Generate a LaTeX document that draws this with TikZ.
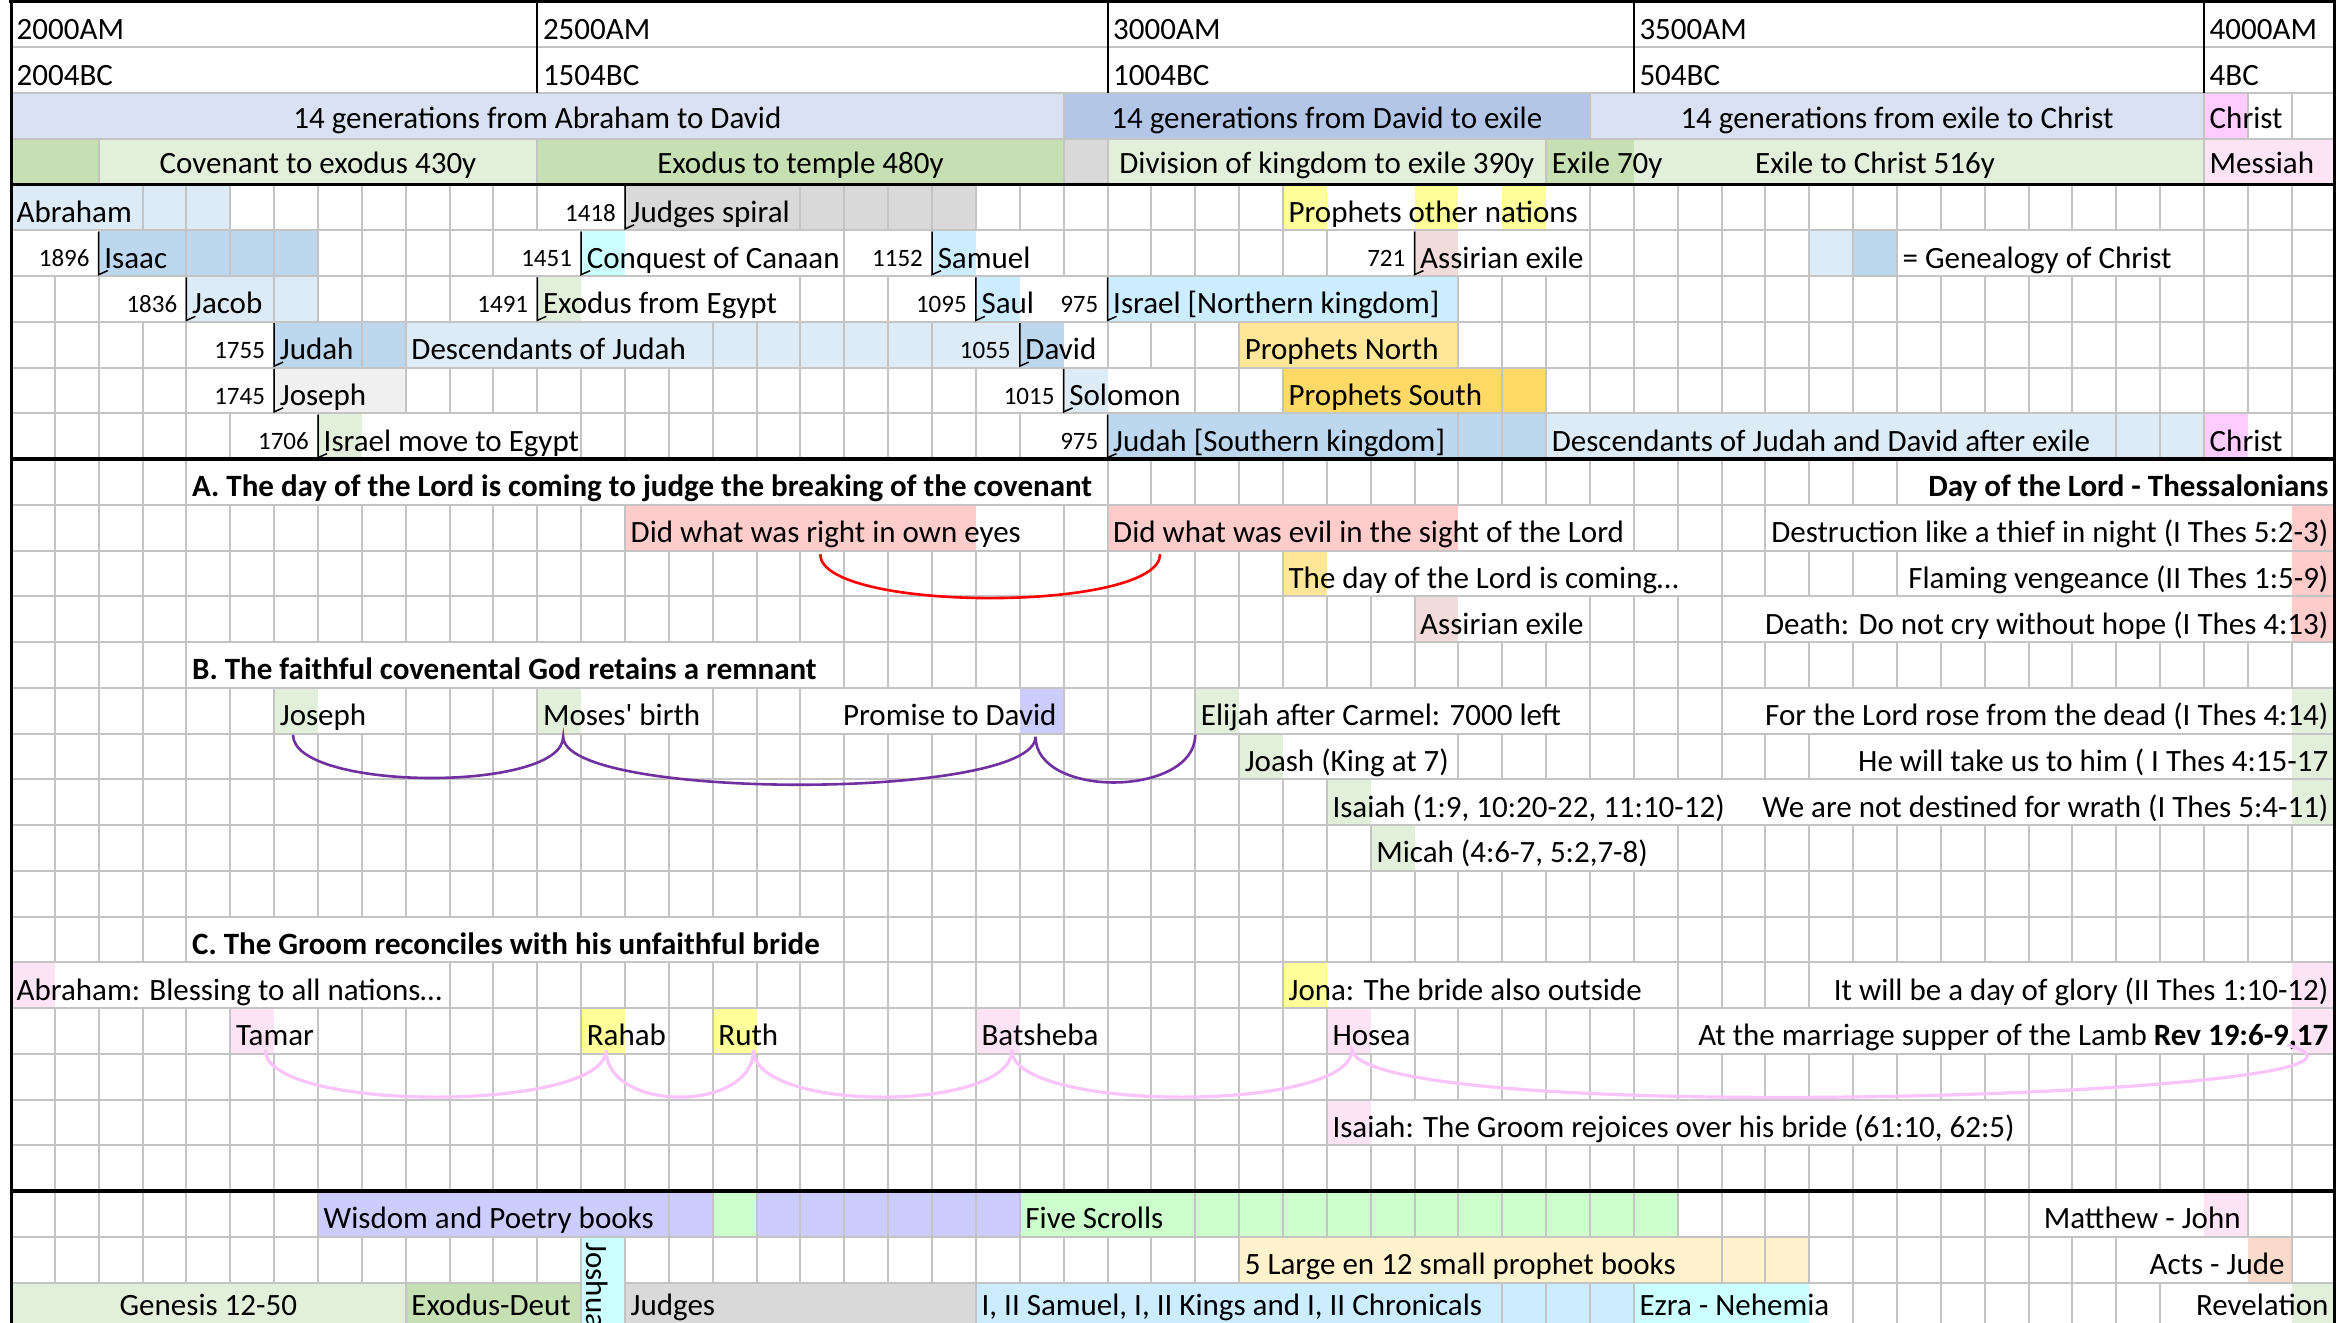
\documentclass[tikz,border=0pt]{standalone}
\usepackage{fontspec}
\setmainfont{Carlito}
\newfontfamily\nomap{Carlito}
\newcommand\fsn{\fontsize{31pt}{37pt}\selectfont}
\newcommand\fsy{\fontsize{25pt}{30pt}\selectfont}
\definecolor{lav}{HTML}{D9E1F2}
\definecolor{blueB}{HTML}{B4C6E7}
\definecolor{chpink}{HTML}{FFCCFF}
\definecolor{dgreen}{HTML}{C6E0B4}
\definecolor{lgreen}{HTML}{E2EFDA}
\definecolor{gryA}{HTML}{D9D9D9}
\definecolor{gryB}{HTML}{F0F0F0}
\definecolor{lpink}{HTML}{FCE4F4}
\definecolor{lblue}{HTML}{DDEBF7}
\definecolor{dblue}{HTML}{BDD7EE}
\definecolor{yel}{HTML}{FFFF99}
\definecolor{cyanA}{HTML}{CCFFFF}
\definecolor{sky}{HTML}{CCECFF}
\definecolor{rose}{HTML}{F2DCDB}
\definecolor{orN}{HTML}{FFE699}
\definecolor{orS}{HTML}{FFD966}
\definecolor{pinkR}{HTML}{FFCCCC}
\definecolor{peri}{HTML}{CCCCFF}
\definecolor{fiveG}{HTML}{CCFFCC}
\definecolor{lor}{HTML}{FFF2CC}
\definecolor{salm}{HTML}{FADACB}
\definecolor{gridc}{HTML}{C4C4C4}
\definecolor{purp}{HTML}{7030A0}
\definecolor{arcpink}{HTML}{F9C4F9}
\tikzset{
  tl/.style={anchor=base west, inner xsep=5.5pt, inner ysep=0pt, font=\fsn},
  tlb/.style={tl, font=\fsn\bfseries},
  tr/.style={anchor=base east, inner xsep=7pt, inner ysep=0pt, font=\fsn},
  trb/.style={tr, font=\fsn\bfseries},
  tc/.style={anchor=base, inner sep=0pt, font=\fsn},
  yr/.style={anchor=base east, inner xsep=9pt, inner ysep=0pt, font=\fsy},
  gl/.style={draw=gridc, line width=2pt},
  mk/.style={draw=black, line width=1.5pt},
  heavy/.style={draw=black, line width=3.8pt},
  hdrline/.style={draw=black, line width=2pt},
  redarc/.style={draw=red, line width=2.6pt},
  purparc/.style={draw=purp, line width=2.6pt},
  pinkarc/.style={draw=arcpink, line width=3.2pt},
}
\newcommand\vgrid[2]{\foreach \a/\b in {#2}{\foreach \c in {\a,...,\b}{\draw[gl] (\c,#1) -- (\c,#1+1);}}}
\newcommand\cellfill[4]{\fill[#4] (#1,#2) rectangle (#3,#2+1);}
\newcommand\yearmark[4]{\draw[mk] (#1,#2+0.03) -- (#1,#2+0.97) -- ++(9pt,4pt); \node[yr] (#4) at (#1,#2+0.8) {#3};}
\begin{document}
\begin{tikzpicture}[x=43.86pt,y=-45.75pt]
\useasboundingbox (-0.2508,-0.0328) rectangle (53.01,28.885);
\fill[white] (-0.2508,-0.0328) rectangle (53.01,28.885);
% ---------- fills: header
\cellfill{0}{2}{24}{lav}
\cellfill{24}{2}{36}{blueB}
\cellfill{36}{2}{50}{lav}
\cellfill{50}{2}{51}{chpink}
\cellfill{0}{3}{2}{dgreen}
\cellfill{2}{3}{12}{lgreen}
\cellfill{12}{3}{24}{dgreen}
\cellfill{24}{3}{25}{gryA}
\cellfill{25}{3}{35}{lgreen}
\cellfill{35}{3}{37}{dgreen}
\cellfill{37}{3}{50}{lgreen}
\cellfill{50}{3}{53}{lpink}
% ---------- fills: section 1
\cellfill{0}{4}{5}{lblue}
\cellfill{14}{4}{22}{gryA}
\cellfill{29}{4}{30}{yel}
\cellfill{32}{4}{33}{yel}
\cellfill{34}{4}{35}{yel}
\cellfill{2}{5}{7}{dblue}
\cellfill{13}{5}{14}{cyanA}
\cellfill{21}{5}{22}{sky}
\cellfill{32}{5}{33}{rose}
\cellfill{41}{5}{42}{lblue}
\cellfill{42}{5}{43}{dblue}
\cellfill{4}{6}{7}{lblue}
\cellfill{12}{6}{13}{lgreen}
\cellfill{22}{6}{23}{sky}
\cellfill{25}{6}{33}{sky}
\cellfill{6}{7}{9}{dblue}
\cellfill{9}{7}{23}{lblue}
\cellfill{23}{7}{24}{dblue}
\cellfill{28}{7}{33}{orN}
\cellfill{6}{8}{9}{gryB}
\cellfill{24}{8}{25}{lblue}
\cellfill{29}{8}{35}{orS}
\cellfill{7}{9}{8}{lgreen}
\cellfill{25}{9}{35}{dblue}
\cellfill{35}{9}{50}{lblue}
\cellfill{50}{9}{51}{chpink}
% ---------- fills: section 2
\cellfill{14}{11}{22}{pinkR}
\cellfill{25}{11}{33}{pinkR}
\cellfill{52}{11}{53}{pinkR}
\cellfill{29}{12}{30}{orN}
\cellfill{52}{12}{53}{pinkR}
\cellfill{32}{13}{33}{rose}
\cellfill{52}{13}{53}{pinkR}
\cellfill{6}{15}{7}{lgreen}
\cellfill{12}{15}{13}{lgreen}
\cellfill{23}{15}{24}{peri}
\cellfill{27}{15}{28}{lgreen}
\cellfill{52}{15}{53}{lgreen}
\cellfill{28}{16}{29}{lgreen}
\cellfill{52}{16}{53}{lgreen}
\cellfill{30}{17}{31}{lgreen}
\cellfill{52}{17}{53}{lgreen}
\cellfill{31}{18}{32}{lgreen}
\cellfill{0}{21}{1}{lpink}
\cellfill{29}{21}{30}{yel}
\cellfill{52}{21}{53}{lpink}
\cellfill{5}{22}{6}{lpink}
\cellfill{13}{22}{14}{yel}
\cellfill{16}{22}{17}{yel}
\cellfill{22}{22}{23}{lpink}
\cellfill{30}{22}{31}{lpink}
\cellfill{52}{22}{53}{lpink}
\cellfill{30}{24}{31}{lpink}
% ---------- fills: section 3
\cellfill{7}{26}{16}{peri}
\cellfill{16}{26}{17}{fiveG}
\cellfill{17}{26}{23}{peri}
\cellfill{23}{26}{38}{fiveG}
\cellfill{50}{26}{51}{lpink}
\cellfill{28}{27}{41}{lor}
\cellfill{51}{27}{52}{salm}
\fill[cyanA] (13,27) rectangle (14,29);
\cellfill{0}{28}{9}{lgreen}
\cellfill{9}{28}{13}{dgreen}
\cellfill{14}{28}{22}{gryA}
\cellfill{22}{28}{37}{sky}
\cellfill{37}{28}{41}{cyanA}
\cellfill{52}{28}{53}{lgreen}
% ---------- grid: horizontal
\foreach \r in {1,2,3,5,6,7,8,9} {\draw[gl] (0,\r) -- (53,\r);}
\foreach \r in {11,...,25} {\draw[gl] (0,\r) -- (53,\r);}
\draw[gl] (0,27) -- (53,27);
\draw[gl] (0,28) -- (13,28);
\draw[gl] (14,28) -- (53,28);
% ---------- grid: vertical
\vgrid{2}{24/24,36/36,50/52}
\vgrid{3}{2/2,12/12,24/25,35/35,50/50}
\vgrid{4}{3/12,14/14,18/29,36/52}
\vgrid{5}{2/2,4/11,13/13,19/19,21/21,24/30,32/32,36/43,50/52}
\vgrid{6}{1/2,4/4,6/10,12/12,18/20,22/22,25/25,33/52}
\vgrid{7}{1/4,6/6,8/9,16/21,23/23,25/28,33/52}
\vgrid{8}{1/4,6/6,9/22,24/24,27/29,34/52}
\vgrid{9}{1/5,7/7,13/23,25/25,33/35,48/50,52/52}
\vgrid{10}{1/4,25/43}
\vgrid{11}{1/14,24/25,37/40}
\vgrid{12}{1/29,39/43}
\vgrid{13}{1/32,36/39}
\vgrid{14}{1/4,19/52}
\vgrid{15}{1/6,9/12,16/18,24/27,36/39}
\vgrid{16}{1/28,33/41}
\vgrid{17}{1/30}
\vgrid{18}{1/31,38/52}
\vgrid{19}{1/52}
\vgrid{20}{1/4,19/52}
\vgrid{21}{10/29,38/41}
\vgrid{22}{1/5,7/13,15/16,18/22,25/30,32/38}
\vgrid{23}{1/52}
\vgrid{24}{1/30,46/52}
\vgrid{25}{1/52}
\vgrid{26}{1/7,15/23,27/46,51/52}
\vgrid{27}{1/28,39/48,52/52}
\vgrid{28}{9/9,13/14,22/22,34/37,42/49}
% ---------- black lines
\foreach \c in {12,25,37,50} {\draw[hdrline] (\c,0) -- (\c,2);}
\draw[heavy] (-0.05,0) -- (53.05,0);
\draw[heavy] (0,4) -- (53,4);
\draw[heavy] (0,10) -- (53,10);
\draw[heavy] (0,26) -- (53,26);
\draw[draw=black, line width=3pt] (0,0) -- (0,29);
\draw[draw=black, line width=3pt] (52.975,0) -- (52.975,29);
% ---------- header text
\node[tl] (h2000) at (0,0.83) {2000AM};
\node[tl] (h2500) at (12,0.83) {2500AM};
\node[tl] (h3000) at (25,0.83) {3000AM};
\node[tl] (h3500) at (37,0.83) {3500AM};
\node[tl] (h4000) at (50,0.83) {4000AM};
\node[tl] (b2004) at (0,1.83) {2004BC};
\node[tl] (b1504) at (12,1.83) {1504BC};
\node[tl] (b1004) at (25,1.83) {1004BC};
\node[tl] (b504) at (37,1.83) {504BC};
\node[tl] (b4) at (50,1.83) {4BC};
\node[tc] (gA) at (12,2.77) {14 generations from Abraham to David};
\node[tc] (gB) at (30,2.77) {14 generations from David to exile};
\node[tc] (gC) at (43,2.77) {14 generations from exile to Christ};
\node[tl] (gD) at (50,2.77) {Christ};
\node[tc] (cvA) at (7,3.77) {Covenant to exodus 430y};
\node[tc] (cvB) at (18,3.77) {Exodus to temple 480y};
\node[tc] (cvC) at (30,3.77) {Division of kingdom to exile 390y};
\node[tl] (cvD) at (35,3.77) {Exile 70y};
\node[tc] (cvE) at (42.5,3.77) {Exile to Christ 516y};
\node[tl] (cvF) at (50,3.77) {Messiah};
% ---------- section 1
\node[tl] (abr) at (0,4.83) {Abraham};
\yearmark{14}{4}{1418}{y1418}
\node[tl] (jsp) at (14,4.83) {Judges spiral};
\node[tl] (pon) at (29,4.83) {Prophets other nations};
\yearmark{2}{5}{1896}{y1896}
\node[tl] (isa) at (2,5.83) {Isaac};
\yearmark{13}{5}{1451}{y1451}
\node[tl] (coc) at (13,5.83) {Conquest of Canaan};
\yearmark{21}{5}{1152}{y1152}
\node[tl] (sam) at (21,5.83) {Samuel};
\yearmark{32}{5}{721}{y721}
\node[tl] (ass) at (32,5.83) {Assirian exile};
\node[tl] (gen) at (43,5.83) {= Genealogy of Christ};
\yearmark{4}{6}{1836}{y1836}
\node[tl] (jac) at (4,6.83) {Jacob};
\yearmark{12}{6}{1491}{y1491}
\node[tl] (exe) at (12,6.83) {Exodus from Egypt};
\yearmark{22}{6}{1095}{y1095}
\node[tl] (sau) at (22,6.83) {Saul};
\yearmark{25}{6}{975}{y975a}
\node[tl] (isr) at (25,6.83) {Israel [Northern kingdom]};
\yearmark{6}{7}{1755}{y1755}
\node[tl] (jud) at (6,7.83) {Judah};
\node[tl] (doj) at (9,7.83) {Descendants of Judah};
\yearmark{23}{7}{1055}{y1055}
\node[tl] (dav) at (23,7.83) {David};
\node[tl] (pno) at (28,7.83) {Prophets North};
\yearmark{6}{8}{1745}{y1745}
\node[tl] (jos) at (6,8.83) {Joseph};
\yearmark{24}{8}{1015}{y1015}
\node[tl] (sol) at (24,8.83) {Solomon};
\node[tl] (pso) at (29,8.83) {Prophets South};
\yearmark{7}{9}{1706}{y1706}
\node[tl] (ime) at (7,9.83) {Israel move to Egypt};
\yearmark{25}{9}{975}{y975b}
\node[tl] (jsk) at (25,9.83) {Judah [Southern kingdom]};
\node[tl] (dja) at (35,9.83) {Descendants of Judah and David after exile};
\node[tl] (chr) at (50,9.83) {Christ};
% ---------- section 2
\node[tlb] (secA) at (4,10.83) {A. The day of the Lord is coming to judge the breaking of the covenant};
\node[trb] (thes) at (53,10.83) {Day of the Lord - Thessalonians};
\node[tl] (dwr) at (14,11.83) {Did what was right in own eyes};
\node[tl] (dwe) at (25,11.83) {Did what was evil in the sight of the Lord};
\node[tr] (dst) at (53,11.83) {Destruction like a thief in night (I Thes 5:2-3)};
\node[tl] (dlc) at (29,12.83) {The day of the Lord is coming…};
\node[tr] (flm) at (53,12.83) {Flaming vengeance (II Thes 1:5-9)};
\node[tl] (ase) at (32,13.83) {Assirian exile};
\node[tr] (dth) at (53,13.83) {Death: Do not cry without hope (I Thes 4:13)};
\node[tlb] (secB) at (4,14.83) {B. The faithful covenental God retains a remnant};
\node[tl] (bjo) at (6,15.83) {Joseph};
\node[tl] (bmo) at (12,15.83) {Moses{\nomap'} birth};
\node[tr] (bpd) at (24,15.83) {Promise to David};
\node[tl] (bel) at (27,15.83) {Elijah after Carmel: 7000 left};
\node[tr] (frd) at (53,15.83) {For the Lord rose from the dead (I Thes 4:14)};
\node[tl] (bjs) at (28,16.83) {Joash (King at 7)};
\node[tr] (hwt) at (53,16.83) {He will take us to him ( I Thes 4:15-17};
\node[tl] (bis) at (30,17.83) {Isaiah (1:9, 10:20-22, 11:10-12)};
\node[tr] (wnd) at (53,17.83) {We are not destined for wrath (I Thes 5:4-11)};
\node[tl] (bmi) at (31,18.83) {Micah (4:6-7, 5:2,7-8)};
\node[tlb] (secC) at (4,20.83) {C. The Groom reconciles with his unfaithful bride};
\node[tl] (cab) at (0,21.83) {Abraham: Blessing to all nations…};
\node[tl] (cjo) at (29,21.83) {Jona: The bride also outside};
\node[tr] (cgl) at (53,21.83) {It will be a day of glory (II Thes 1:10-12)};
\node[tl] (cta) at (5,22.83) {Tamar};
\node[tl] (cra) at (13,22.83) {Rahab};
\node[tl] (cru) at (16,22.83) {Ruth};
\node[tl] (cba) at (22,22.83) {Batsheba};
\node[tl] (cho) at (30,22.83) {Hosea};
\node[tr] (cms) at (53,22.83) {At the marriage supper of the Lamb \textbf{Rev 19:6-9,17}};
\node[tl] (cig) at (30,24.83) {Isaiah: The Groom rejoices over his bride (61:10, 62:5)};
% ---------- section 3
\node[tl] (wpb) at (7,26.83) {Wisdom and Poetry books};
\node[tl] (fsc) at (23,26.83) {Five Scrolls};
\node[tr] (mjo) at (51,26.83) {Matthew - John};
\node[tl] (lsp) at (28,27.83) {5 Large en 12 small prophet books};
\node[tr] (acj) at (52,27.83) {Acts - Jude};
\node[rotate=-90, anchor=base west, inner sep=0pt, font=\fsn] (jsh) at (13.13,27.12) {Joshua};
\node[tc] (gns) at (4.5,28.73) {Genesis 12-50};
\node[tl] (exd) at (9,28.73) {Exodus-Deut};
\node[tl] (jdg) at (14,28.73) {Judges};
\node[tl] (skc) at (22,28.73) {I, II Samuel, I, II Kings and I, II Chronicals};
\node[tl] (ezn) at (37,28.73) {Ezra - Nehemia};
\node[tr] (rev) at (53,28.73) {Revelation};
% ---------- arcs
\coordinate (rA) at (18.45,12.08);
\coordinate (rB) at (26.2,12.08);
\draw[redarc] (rA) .. controls +(0,1.28) and +(0,1.28) .. (rB);
\coordinate (pJos) at (6.43,16.03);
\coordinate (pMos) at (12.59,16.07);
\coordinate (pDav) at (23.36,16.07);
\coordinate (pEli) at (27.0,16.03);
\draw[purparc] (pJos) .. controls +(0,1.23) and +(0,1.23) .. (pMos)
  .. controls +(0,1.4) and +(0,1.4) .. (pDav)
  .. controls +(0,1.36) and +(0,1.36) .. (pEli);
\coordinate (kTam) at (5.8,22.92);
\coordinate (kRah) at (13.57,22.92);
\coordinate (kRut) at (16.93,22.92);
\coordinate (kBat) at (22.82,22.92);
\coordinate (kHos) at (30.57,22.92);
\coordinate (kEnd) at (51.9,22.81);
\draw[pinkarc] (kTam) .. controls +(0,1.37) and +(0,1.37) .. (kRah)
  .. controls +(0,1.37) and +(0,1.37) .. (kRut)
  .. controls +(0,1.37) and +(0,1.37) .. (kBat)
  .. controls +(0,1.37) and +(0,1.37) .. (kHos)
  .. controls (31,24.67) and (56,23.9) .. (kEnd);
\end{tikzpicture}
\end{document}
